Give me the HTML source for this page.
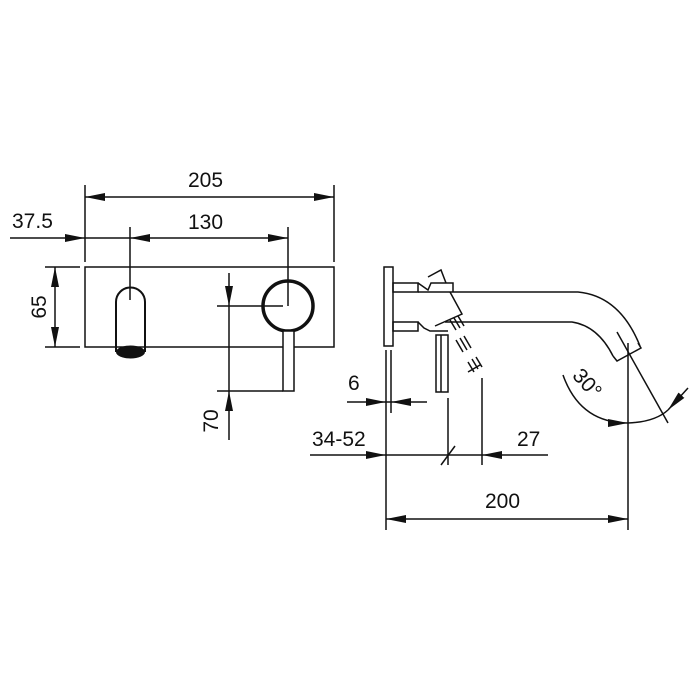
<!DOCTYPE html>
<html><head><meta charset="utf-8"><style>
html,body{margin:0;padding:0;background:#fff;}
svg{display:block}
text{font-family:"Liberation Sans",Arial,sans-serif;font-size:21px;fill:#111}
</style></head><body>
<svg width="700" height="700" viewBox="0 0 700 700" xmlns="http://www.w3.org/2000/svg">
<defs>
<marker id="a" viewBox="0 0 20 8" refX="20" refY="4" markerWidth="20" markerHeight="8" markerUnits="userSpaceOnUse" orient="auto-start-reverse">
<path d="M0,0 L20,4 L0,8 Z" fill="#111"/></marker>
</defs>
<g stroke="#111" stroke-width="1.5" fill="none">
<line x1="85" y1="185" x2="85" y2="262"/>
<line x1="334" y1="185" x2="334" y2="262"/>
<line x1="85" y1="197" x2="334" y2="197" marker-start="url(#a)" marker-end="url(#a)"/>
<line x1="10" y1="238" x2="85" y2="238" marker-end="url(#a)"/>
<line x1="85" y1="238" x2="130" y2="238"/>
<line x1="130" y1="238" x2="288" y2="238" marker-start="url(#a)" marker-end="url(#a)"/>
<line x1="130" y1="227" x2="130" y2="300"/>
<line x1="288" y1="227" x2="288" y2="306"/>
<rect x="85" y="267" width="249" height="80"/>
<line x1="45" y1="267" x2="80" y2="267"/>
<line x1="45" y1="347" x2="80" y2="347"/>
<line x1="55" y1="267" x2="55" y2="347" marker-start="url(#a)" marker-end="url(#a)"/>
<path d="M116,352 V302 A14,14 0 0 1 145,302 V352" stroke-width="2"/>
<circle cx="288" cy="306" r="25" stroke-width="3.5"/>
<rect x="283" y="331" width="11" height="60" fill="#fff"/>
<line x1="217" y1="306" x2="283" y2="306"/>
<line x1="217" y1="391" x2="283" y2="391"/>
<line x1="229" y1="273" x2="229" y2="306" marker-end="url(#a)"/>
<line x1="229" y1="306" x2="229" y2="391"/>
<line x1="229" y1="440" x2="229" y2="391" marker-end="url(#a)"/>
<rect x="384" y="267" width="9" height="79"/>
<rect x="393" y="283" width="25" height="9"/>
<rect x="393" y="322" width="25" height="9"/>
<path d="M418,283 L428,290 L431,283 L453,283 L453,292"/>
<path d="M428,277 L441,270 L446,283"/>
<path d="M450,292 L462,314 L435,326"/>
<path d="M418,322 L424,328 L430,331 L448,331"/>
<path d="M418,292 H578 Q620,296 640,346"/>
<path d="M445,322 H572 Q598,326 613,356"/>
<path d="M613,356 L617,361 L641,348 L638,343"/>
<rect x="436" y="335" width="12" height="57" fill="#fff"/>
<line x1="441" y1="335" x2="441" y2="392"/>
<path d="M450,320 l6,10 M454,318 l6,10 M458,316 l6,10"/>
<path d="M456,340 l7,12 M460,338 l7,12 M464,336 l7,12"/>
<path d="M468,362 l6,10 M472,359 l6,10 M476,357 l6,10 M468,372 l12,-7"/>
<line x1="448" y1="398" x2="448" y2="465"/>
<line x1="482" y1="378" x2="482" y2="465"/>
<line x1="391" y1="350" x2="391" y2="413"/>
<line x1="347" y1="402" x2="386" y2="402" marker-end="url(#a)"/>
<line x1="386" y1="402" x2="391" y2="402"/>
<line x1="427" y1="402" x2="391" y2="402" marker-end="url(#a)"/>
<line x1="386" y1="350" x2="386" y2="530"/>
<line x1="310" y1="455" x2="386" y2="455" marker-end="url(#a)"/>
<line x1="386" y1="455" x2="482" y2="455"/>
<line x1="548" y1="455" x2="482" y2="455" marker-end="url(#a)"/>
<line x1="441" y1="465" x2="455" y2="446"/>
<line x1="628" y1="343" x2="628" y2="530"/>
<line x1="386" y1="519" x2="628" y2="519" marker-start="url(#a)" marker-end="url(#a)"/>
<line x1="617" y1="332" x2="668" y2="423"/>
<path d="M563,375 Q580,423 628,423" marker-end="url(#a)"/>
<path d="M628,423 Q655,422 668,410"/>
<line x1="688" y1="388" x2="668" y2="410" marker-end="url(#a)"/>
</g>
<path d="M116,352 A14.5,6.5 0 0 0 145,352 A14.5,6.5 0 0 0 116,352 Z" fill="#111"/>
<text x="188" y="187">205</text>
<text x="12" y="228">37.5</text>
<text x="188" y="229">130</text>
<text transform="translate(46,307) rotate(-90)" text-anchor="middle">65</text>
<text transform="translate(218,421) rotate(-90)" text-anchor="middle">70</text>
<text x="348" y="390">6</text>
<text x="312" y="446">34-52</text>
<text x="517" y="446">27</text>
<text x="485" y="508">200</text>
<text transform="translate(582,388) rotate(48)" text-anchor="middle">30°</text>
</svg>
</body></html>
